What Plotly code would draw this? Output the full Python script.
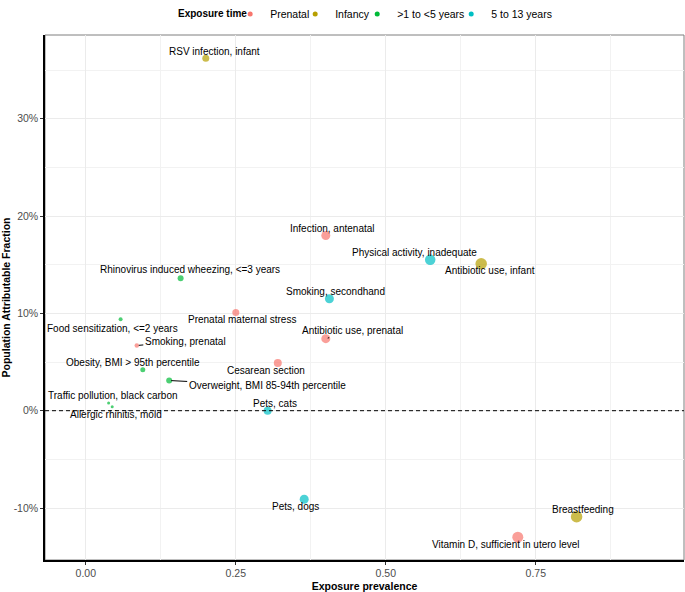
import plotly.graph_objects as go

# exposures
factors = [
    "RSV infection, infant",
    "Infection, antenatal",
    "Physical activity, inadequate",
    "Antibiotic use, infant",
    "Smoking, secondhand",
    "Antibiotic use, prenatal",
    "Cesarean section",
    "Prenatal maternal stress",
    "Rhinovirus induced wheezing, <=3 years",
    "Food sensitization, <=2 years",
    "Smoking, prenatal",
    "Obesity, BMI > 95th percentile",
    "Overweight, BMI 85-94th percentile",
    "Traffic pollution, black carbon",
    "Allergic rhinitis, mold",
    "Pets, cats",
    "Pets, dogs",
    "Breastfeeding",
    "Vitamin D, sufficient in utero level",
]
exposure_time = [
    "Infancy", "Prenatal", "5 to 13 years", "Infancy", "5 to 13 years",
    "Prenatal", "Prenatal", "Prenatal", ">1 to <5 years", ">1 to <5 years",
    "Prenatal", ">1 to <5 years", ">1 to <5 years", ">1 to <5 years",
    ">1 to <5 years", "5 to 13 years", "5 to 13 years", "Infancy", "Prenatal",
]
prevalence = [0.200, 0.400, 0.574, 0.659, 0.406, 0.400, 0.320, 0.250, 0.158,
              0.058, 0.085, 0.095, 0.139, 0.038, 0.044, 0.303, 0.364, 0.818,
              0.720]
paf = [0.362, 0.180, 0.155, 0.151, 0.115, 0.074, 0.049, 0.101, 0.136, 0.094,
       0.067, 0.042, 0.031, 0.008, 0.004, 0.000, -0.091, -0.109, -0.130]
weight = [7, 9, 10.5, 11.5, 9, 9, 8, 7, 6, 4, 4.5, 5, 6, 3, 3, 8, 9, 11.5, 11]

time_levels = ["Prenatal", "Infancy", ">1 to <5 years", "5 to 13 years"]
x_ticks = [0, 0.25, 0.5, 0.75]
x_tick_text = ["0.00", "0.25", "0.50", "0.75"]
y_ticks = [-0.1, 0, 0.1, 0.2, 0.3]
y_tick_text = ["-10%", "0%", "10%", "20%", "30%"]

COLORS = {
    "Prenatal": "#F8766D",
    "Infancy": "#B79F00",
    ">1 to <5 years": "#00BA38",
    "5 to 13 years": "#00BFC4",
}
FONT = "Liberation Sans, Arial, sans-serif"

# label nudges in px (dx right, dy up); repel segments drawn for a few
label_dx = [9, 6.5, -16, 9, 6, 27, -12, 6, 9, -8, 48.5, -10, 98, 4, 3.7, 7, -9, 6, -12]
label_dy = [7, 7, 7, -7, 7, 8, -7, -7.5, 8.5, -9, 4, 7, -5, 7.5, -7.3, 7.7, -7.4, 7.6, -7]
with_segment = {"Antibiotic use, prenatal", "Smoking, prenatal",
                "Overweight, BMI 85-94th percentile"}

# one small legend per key so the keys sit where ggplot put them
legend_ids = ["legend", "legend2", "legend3", "legend4"]
legend_x = [0.2898, 0.3915, 0.4886, 0.6357]
legend_title_x = 0.2050

fig = go.Figure()

for k, level in enumerate(time_levels):
    idx = [i for i, t in enumerate(exposure_time) if t == level]
    fig.add_trace(go.Scatter(
        x=[prevalence[i] for i in idx],
        y=[paf[i] for i in idx],
        mode="markers",
        marker=dict(color=COLORS[level], size=[weight[i] for i in idx],
                    line=dict(width=0)),
        text=[factors[i] for i in idx],
        hoverinfo="text",
        showlegend=False,
    ))
    fig.add_trace(go.Scatter(
        x=[None], y=[None], mode="markers", name=level,
        marker=dict(color=COLORS[level], size=5),
        legend=legend_ids[k],
    ))

for i, name in enumerate(factors):
    if name in with_segment:
        fig.add_annotation(
            x=prevalence[i], y=paf[i], text=name, showarrow=True,
            arrowhead=0, arrowwidth=1, arrowcolor="black",
            ax=label_dx[i], ay=-label_dy[i], standoff=2,
            font=dict(family=FONT, size=10, color="black"),
        )
    else:
        fig.add_annotation(
            x=prevalence[i], y=paf[i], text=name, showarrow=False,
            xshift=label_dx[i], yshift=label_dy[i],
            font=dict(family=FONT, size=10, color="black"),
        )

# legend title
fig.add_annotation(
    xref="paper", yref="paper", x=legend_title_x, y=1.04,
    xanchor="left", yanchor="middle", showarrow=False,
    text="<b>Exposure time</b>",
    font=dict(family=FONT, size=10, color="black"),
)

fig.add_hline(y=0, line=dict(color="black", width=1, dash="4px,3px"))

# thin grey panel border (theme_bw), black axis lines drawn on top
fig.add_shape(type="rect", xref="paper", yref="paper", x0=0, y0=0, x1=1, y1=1,
              line=dict(color="#7F7F7F", width=1), layer="below")

legend_style = dict(
    orientation="h", y=1.04, yanchor="middle", xanchor="left",
    font=dict(size=10.5, color="black"), itemwidth=30,
    bgcolor="rgba(0,0,0,0)",
)
fig.update_layout(
    width=685, height=592,
    margin=dict(l=45, r=1, t=35, b=32, autoexpand=False),
    paper_bgcolor="white", plot_bgcolor="white",
    font=dict(family=FONT, size=10.5, color="#4D4D4D"),
    legend=dict(legend_style, x=legend_x[0]),
    legend2=dict(legend_style, x=legend_x[1]),
    legend3=dict(legend_style, x=legend_x[2]),
    legend4=dict(legend_style, x=legend_x[3]),
)

fig.update_xaxes(
    range=[-0.068, 0.997], automargin=False,
    tickvals=x_ticks, ticktext=x_tick_text,
    ticks="outside", ticklen=3, tickcolor="#333333",
    showgrid=True, gridcolor="#EBEBEB", gridwidth=1,
    minor=dict(tickvals=[0.125, 0.375, 0.625, 0.875], showgrid=True,
               gridcolor="#F2F2F2", gridwidth=0.6, ticks=""),
    zeroline=False, showline=True, mirror=False,
    linecolor="black", linewidth=1.5,
    title=dict(text="<b>Exposure prevalence</b>", standoff=4,
               font=dict(size=10.5, color="black")),
)

fig.update_yaxes(
    range=[-0.1534, 0.386], automargin=False,
    tickvals=y_ticks, ticktext=y_tick_text,
    ticks="outside", ticklen=3, tickcolor="#333333",
    showgrid=True, gridcolor="#EBEBEB", gridwidth=1,
    minor=dict(tickvals=[-0.05, 0.05, 0.15, 0.25, 0.35], showgrid=True,
               gridcolor="#F2F2F2", gridwidth=0.6, ticks=""),
    zeroline=False, showline=True, mirror=False,
    linecolor="black", linewidth=1.5,
    title=dict(text="<b>Population Attributable Fraction</b>", standoff=10,
               font=dict(size=10.5, color="black")),
)

# drop the browser's default 8px body margin so the figure fills the window
fig.write_html("out.html", config={"displayModeBar": False},
               post_script="document.body.style.margin = '0';")
